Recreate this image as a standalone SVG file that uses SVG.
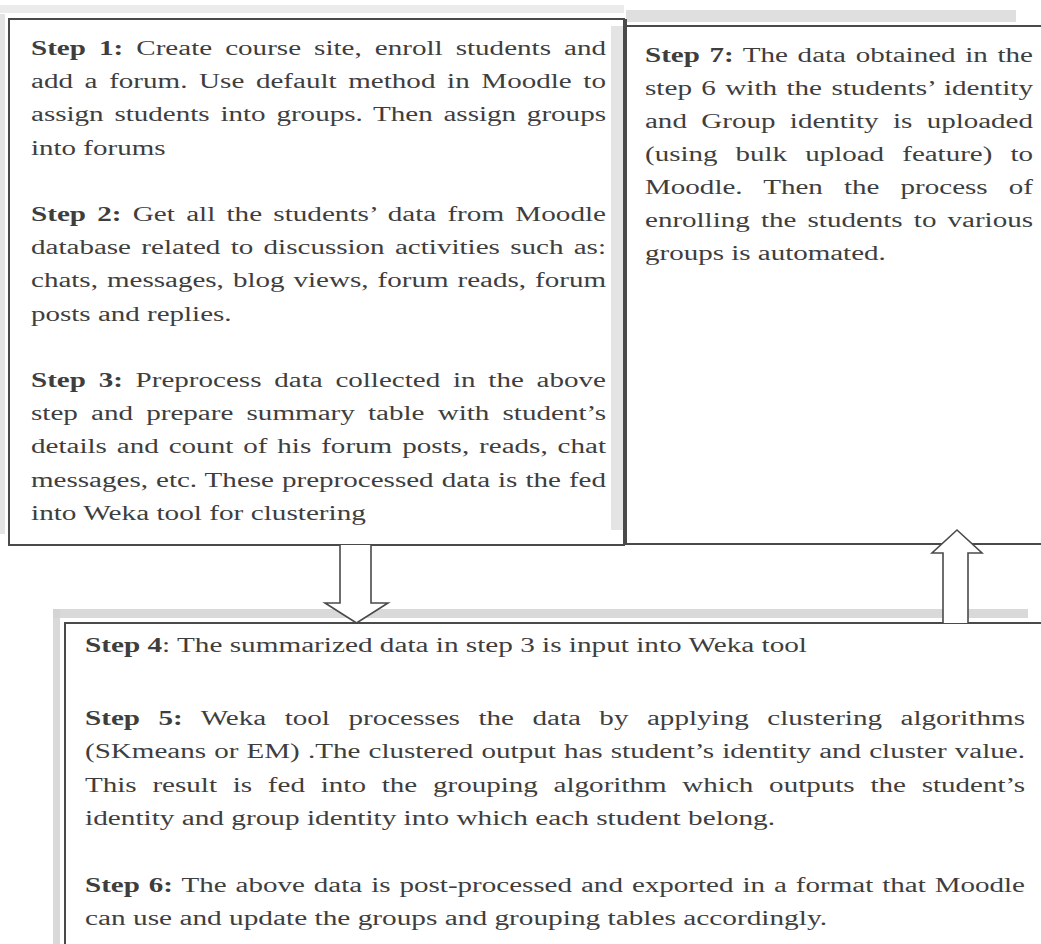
<svg xmlns="http://www.w3.org/2000/svg" width="1041" height="944" viewBox="0 0 1041 944">
<style>
.t{font-family:"Liberation Serif","Times New Roman",serif;font-size:20px;fill:#3e3e3e}
.b{font-weight:bold}
.box{fill:none;stroke:#4a4a4a;stroke-width:2}
.sh{fill:#d2d2d2}
.arr{fill:#fff;stroke:#4a4a4a;stroke-width:1.6;stroke-linejoin:miter}
</style>
<rect width="1041" height="944" fill="#fff"/>
<g id="shadows">
<rect class="sh" x="0" y="5" width="624" height="8" opacity="0.45"/>
<rect class="sh" x="626" y="10" width="390" height="12" opacity="0.7"/>
<rect class="sh" x="0" y="14" width="5" height="520" opacity="0.6"/>
<rect class="sh" x="611" y="26" width="12" height="504" opacity="0.6"/>
<rect class="sh" x="53" y="609" width="975" height="9" opacity="0.85"/>
<rect class="sh" x="53" y="609" width="7" height="335" opacity="0.85"/>
</g>
<g id="box1">
<rect class="box" x="9" y="19" width="615" height="526"/>
<text class="t" x="31" y="55" textLength="575" lengthAdjust="spacingAndGlyphs" style="word-spacing:4px"><tspan class="b">Step 1:</tspan> Create course site, enroll students and</text>
<text class="t" x="31" y="88.2" textLength="575" lengthAdjust="spacingAndGlyphs" style="word-spacing:3px">add a forum. Use default method in Moodle to</text>
<text class="t" x="31" y="121.4" textLength="575" lengthAdjust="spacingAndGlyphs" style="word-spacing:2.4px">assign students into groups. Then assign groups</text>
<text class="t" x="31" y="154.6" textLength="134.5" lengthAdjust="spacingAndGlyphs">into forums</text>
<text class="t" x="31" y="220.9" textLength="575" lengthAdjust="spacingAndGlyphs" style="word-spacing:2.7px"><tspan class="b">Step 2:</tspan> Get all the students’ data from Moodle</text>
<text class="t" x="31" y="254.1" textLength="575" lengthAdjust="spacingAndGlyphs" style="word-spacing:2.1px">database related to discussion activities such as:</text>
<text class="t" x="31" y="287.3" textLength="575" lengthAdjust="spacingAndGlyphs" style="word-spacing:1.2px">chats, messages, blog views, forum reads, forum</text>
<text class="t" x="31" y="320.5" textLength="200.6" lengthAdjust="spacingAndGlyphs">posts and replies.</text>
<text class="t" x="31" y="386.9" textLength="575" lengthAdjust="spacingAndGlyphs" style="word-spacing:3.8px"><tspan class="b">Step 3:</tspan> Preprocess data collected in the above</text>
<text class="t" x="31" y="420.1" textLength="575" lengthAdjust="spacingAndGlyphs" style="word-spacing:4px">step and prepare summary table with student’s</text>
<text class="t" x="31" y="453.3" textLength="575" lengthAdjust="spacingAndGlyphs" style="word-spacing:1.85px">details and count of his forum posts, reads, chat</text>
<text class="t" x="31" y="486.5" textLength="575" lengthAdjust="spacingAndGlyphs" style="word-spacing:0.5px">messages, etc. These preprocessed data is the fed</text>
<text class="t" x="31" y="519.7" textLength="335" lengthAdjust="spacingAndGlyphs">into Weka tool for clustering</text>
</g>
<g id="box7">
<path class="box" d="M626 26 H1041 M626 19 V544 H1041"/>
<text class="t" x="645" y="61.5" textLength="388" lengthAdjust="spacingAndGlyphs" style="word-spacing:1.65px"><tspan class="b">Step 7:</tspan> The data obtained in the</text>
<text class="t" x="645" y="94.5" textLength="388" lengthAdjust="spacingAndGlyphs" style="word-spacing:1.4px">step 6 with the students’ identity</text>
<text class="t" x="645" y="127.5" textLength="388" lengthAdjust="spacingAndGlyphs" style="word-spacing:4.95px">and Group identity is uploaded</text>
<text class="t" x="645" y="160.5" textLength="388" lengthAdjust="spacingAndGlyphs" style="word-spacing:7.5px">(using bulk upload feature) to</text>
<text class="t" x="645" y="193.5" textLength="388" lengthAdjust="spacingAndGlyphs" style="word-spacing:9.55px">Moodle. Then the process of</text>
<text class="t" x="645" y="226.8" textLength="388" lengthAdjust="spacingAndGlyphs" style="word-spacing:2.7px">enrolling the students to various</text>
<text class="t" x="645" y="260" textLength="240.8" lengthAdjust="spacingAndGlyphs">groups is automated.</text>
</g>
<g id="box4">
<path class="box" d="M65 944 V623 H1041"/>
<text class="t" x="85" y="652" textLength="722" lengthAdjust="spacingAndGlyphs"><tspan class="b">Step 4</tspan>: The summarized data in step 3 is input into Weka tool</text>
<text class="t" x="85" y="725" textLength="940" lengthAdjust="spacingAndGlyphs" style="word-spacing:7.7px"><tspan class="b">Step 5:</tspan> Weka tool processes the data by applying clustering algorithms</text>
<text class="t" x="85" y="758.3" textLength="940" lengthAdjust="spacingAndGlyphs" style="word-spacing:0.6px">(SKmeans or EM) .The clustered output has student’s identity and cluster value.</text>
<text class="t" x="85" y="791.6" textLength="940" lengthAdjust="spacingAndGlyphs" style="word-spacing:5.85px">This result is fed into the grouping algorithm which outputs the student’s</text>
<text class="t" x="85" y="825" textLength="690" lengthAdjust="spacingAndGlyphs">identity and group identity into which each student belong.</text>
<text class="t" x="85" y="892" textLength="940" lengthAdjust="spacingAndGlyphs" style="word-spacing:1.2px"><tspan class="b">Step 6:</tspan> The above data is post-processed and exported in a format that Moodle</text>
<text class="t" x="85" y="925" textLength="742" lengthAdjust="spacingAndGlyphs">can use and update the groups and grouping tables accordingly.</text>
</g>
<g id="connectors">
<path id="arrow-3-4" class="arr" d="M340 545 V603 H325 L356.5 623 L388 603 H371 V545"/>
<path id="arrow-6-7" class="arr" d="M943 623 V553 H932 L957 530 L982 553 H968 V623"/>
</g>
</svg>
